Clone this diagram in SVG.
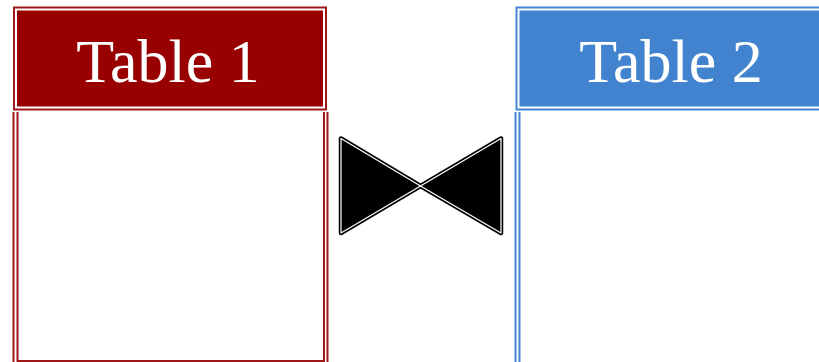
<svg xmlns="http://www.w3.org/2000/svg" width="819" height="362" viewBox="0 0 819 362">
<style>
.t{font-family:"Liberation Serif","Times New Roman",serif;font-size:62px;fill:#fff;text-anchor:middle}
.red{stroke:#a01818;fill:none;stroke-width:2}
.blue{stroke:#4585d2;fill:none;stroke-width:2}
</style>
<rect width="819" height="362" fill="#fff"/>
<g id="table1">
  <rect x="14" y="7.5" width="312" height="102" fill="#fff" class="red"/>
  <rect x="17" y="10.5" width="306" height="96" fill="#990000"/>
  <path class="red" d="M13.5 112V370M17.5 112V361H324V112M327.5 112V370"/>
  <text class="t" x="168" y="82">Table 1</text>
</g>
<g id="table2">
  <rect x="516.5" y="7.5" width="312" height="102" fill="#fff" class="blue"/>
  <rect x="519.5" y="10.5" width="306" height="96" fill="#4283d0"/>
  <path class="blue" d="M515.5 112V370M519.5 112V370"/>
  <text class="t" x="671" y="82">Table 2</text>
</g>
<g id="connectors">
  <g stroke-linejoin="round">
    <polygon points="341,138.5 341,233 420.5,186" fill="#000" stroke="#000" stroke-width="4.5"/>
    <polygon points="501,138.5 501,233 420.5,186" fill="#000" stroke="#000" stroke-width="4.5"/>
    <polygon points="341,138.5 341,233 420.5,186" fill="#000" stroke="#fff" stroke-width="1.2"/>
    <polygon points="501,138.5 501,233 420.5,186" fill="#000" stroke="#fff" stroke-width="1.2"/>
  </g>
</g>
</svg>
